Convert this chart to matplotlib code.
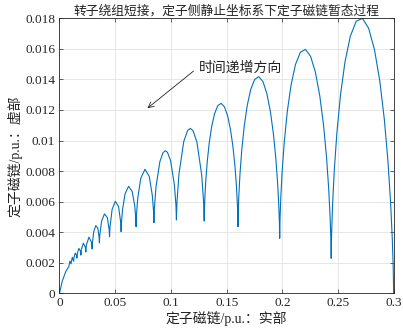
import matplotlib
matplotlib.use('Agg')
import matplotlib.pyplot as plt

plt.rcParams['font.family'] = ['Liberation Serif', 'Noto Sans CJK SC']
plt.rcParams['axes.unicode_minus'] = False

# 定子磁链轨迹 (实部, 虚部)
flux_re = [
    0, 0.0025, 0.0058, 0.0084, 0.00935, 0.0103, 0.0115, 0.0127,
    0.01296, 0.01415, 0.01534, 0.0156,
    0.01593, 0.0174, 0.01887, 0.0192,
    0.0196, 0.0214, 0.0232, 0.0236,
    0.02412, 0.02645, 0.02878, 0.0293,
    0.02952, 0.03074, 0.03255, 0.03436, 0.03558, 0.0358,
    0.0361, 0.03781, 0.04035, 0.04289, 0.0446, 0.0449,
    0.04525, 0.0472, 0.0501, 0.053, 0.05496, 0.0553,
    0.05534, 0.05558, 0.05652, 0.05882, 0.062, 0.06518, 0.06748, 0.06842, 0.06866, 0.0687,
    0.06874, 0.06904, 0.07015, 0.0729, 0.0767, 0.0805, 0.08325, 0.08436, 0.08466, 0.0847,
    0.08476, 0.08513, 0.08654, 0.09, 0.0928, 0.0948, 0.0968, 0.0996, 0.10307, 0.10447,
    0.10485, 0.1049,
    0.10497, 0.10543, 0.10716, 0.11144, 0.11488, 0.11735, 0.11982, 0.12327, 0.12754, 0.12927,
    0.12973, 0.1298,
    0.13, 0.13044, 0.13127, 0.13255, 0.1343, 0.1365, 0.13909, 0.14195, 0.14495, 0.14796,
    0.15082, 0.1534, 0.1556, 0.15735, 0.15863, 0.15946, 0.15991, 0.1601,
    0.16034, 0.16089, 0.16192, 0.1635, 0.16566, 0.16837, 0.17156, 0.17509, 0.1788, 0.18251,
    0.18604, 0.18923, 0.19194, 0.1941, 0.19568, 0.19671, 0.19726, 0.1975,
    0.1978, 0.19848, 0.19975, 0.2017, 0.20437, 0.20772, 0.21166, 0.21602, 0.2206, 0.22518,
    0.22954, 0.23348, 0.23683, 0.2395, 0.24145, 0.24272, 0.2434, 0.2437,
    0.24406, 0.24489, 0.24642, 0.24879, 0.25202, 0.25609, 0.26086, 0.26615, 0.2717, 0.27725,
    0.28254, 0.28731, 0.29138, 0.29461, 0.29698, 0.29851, 0.29934, 0.2997,
]
flux_im = [
    0, 0.0008, 0.00145, 0.00175, 0.00211, 0.00193, 0.002355, 0.0021,
    0.002333, 0.00263, 0.002497, 0.0023,
    0.002588, 0.00294, 0.002752, 0.0025,
    0.002858, 0.00328, 0.003022, 0.0027,
    0.003158, 0.00368, 0.003322, 0.0029,
    0.003276, 0.004045, 0.00443, 0.004268, 0.00365, 0.0033,
    0.003777, 0.004739, 0.0052, 0.004962, 0.004151, 0.0037,
    0.004301, 0.005488, 0.006025, 0.005672, 0.004609, 0.00403,
    0.004184, 0.004616, 0.005465, 0.006515, 0.007005, 0.006671, 0.005735, 0.004932, 0.004512, 0.00436,
    0.004559, 0.005114, 0.006199, 0.007526, 0.00812, 0.00765, 0.006411, 0.005362, 0.004817, 0.00462,
    0.004873, 0.005576, 0.006946, 0.00861, 0.009199, 0.00933, 0.009235, 0.008696, 0.007094, 0.005748,
    0.005052, 0.0048,
    0.005129, 0.006041, 0.007809, 0.009929, 0.010654, 0.010795, 0.01064, 0.009895, 0.007751, 0.005975,
    0.005059, 0.00473,
    0.005481, 0.006348, 0.007438, 0.008641, 0.009839, 0.010912, 0.011754, 0.012279, 0.012435, 0.012205,
    0.01161, 0.010706, 0.009579, 0.008339, 0.007104, 0.005994, 0.005115, 0.00436,
    0.005329, 0.006446, 0.007847, 0.009391, 0.010923, 0.01229, 0.013353, 0.014005, 0.01418, 0.013855,
    0.013059, 0.011866, 0.010389, 0.008769, 0.007161, 0.005718, 0.004579, 0.0036,
    0.004835, 0.006256, 0.008034, 0.009991, 0.011927, 0.013646, 0.014976, 0.015776, 0.015965, 0.015516,
    0.014468, 0.012916, 0.011007, 0.008919, 0.006852, 0.005002, 0.003541, 0.00229,
    0.003884, 0.005714, 0.008001, 0.010507, 0.012978, 0.01516, 0.016829, 0.01781, 0.017995, 0.017356,
    0.015943, 0.013884, 0.011368, 0.008633, 0.005933, 0.003522, 0.001624, 0.0,
]

xticks = [0, 0.05, 0.1, 0.15, 0.2, 0.25, 0.3]
xtick_labels = ['0', '0.05', '0.1', '0.15', '0.2', '0.25', '0.3']
yticks = [0, 0.002, 0.004, 0.006, 0.008, 0.01, 0.012, 0.014, 0.016, 0.018]
ytick_labels = ['0', '0.002', '0.004', '0.006', '0.008', '0.01', '0.012', '0.014', '0.016', '0.018']

fig = plt.figure(figsize=(4.03, 3.30), dpi=100)
ax = fig.add_axes([0.1476, 0.1112, 0.8300, 0.8333])

ax.plot(flux_re, flux_im, color='#0072BD', lw=0.8)

ax.set_xlim(0, 0.3)
ax.set_ylim(0, 0.018)
ax.set_xticks(xticks)
ax.set_xticklabels(xtick_labels)
ax.set_yticks(yticks)
ax.set_yticklabels(ytick_labels)
ax.tick_params(direction='in', length=3, width=0.5, labelsize=9.5, colors='#262626',
               top=True, right=True, pad=3)
ax.grid(True, color='#e3e3e3', lw=0.6)
ax.set_axisbelow(True)
for s in ax.spines.values():
    s.set_linewidth(0.6)
    s.set_color('#262626')

ax.set_title('转子绕组短接，定子侧静止坐标系下定子磁链暂态过程', fontsize=9.2, pad=3, color='#222222')
ax.set_xlabel('定子磁链/p.u.：实部', fontsize=10, labelpad=1, color='#222222')
ax.set_ylabel('定子磁链/p.u.：虚部', fontsize=10, labelpad=2, color='#222222')

ax.annotate('', xy=(0.077, 0.0120), xytext=(0.1221, 0.01466),
            arrowprops=dict(arrowstyle='->', lw=0.6, color='#222222'))
ax.text(0.1251, 0.01475, '时间递增方向', fontsize=10, va='center', ha='left', color='#222222')

fig.savefig('out.png', dpi=100)
